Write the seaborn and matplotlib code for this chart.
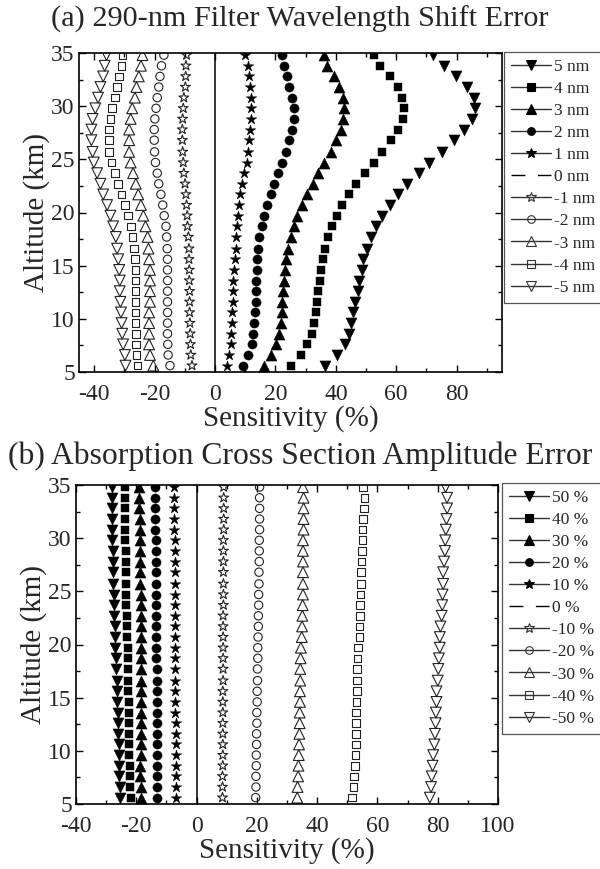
"""Sensitivity profiles for the 290-nm filter shift and cross-section amplitude errors."""

import numpy as np
import pandas as pd
import matplotlib
matplotlib.use('Agg')
import matplotlib.pyplot as plt
from matplotlib.lines import Line2D
from matplotlib.ticker import MultipleLocator
import seaborn as sns

# altitude levels, top to bottom (km)
altitude = [34.8, 33.8, 32.8, 31.8, 30.8, 29.8, 28.8, 27.8, 26.8, 25.7,
            24.7, 23.7, 22.7, 21.7, 20.7, 19.7, 18.7, 17.7, 16.6, 15.6,
            14.6, 13.6, 12.6, 11.6, 10.6, 9.6, 8.6, 7.6, 6.6, 5.6]

# (a) filter wavelength shift error
shift_labels = ['5 nm', '4 nm', '3 nm', '2 nm', '1 nm', '0 nm',
                '-1 nm', '-2 nm', '-3 nm', '-4 nm', '-5 nm']
shift_p5 = [72.3, 75.7, 79.9, 83.4, 85.6, 85.9, 85.0, 82.3, 79.0, 75.1,
            71.0, 67.4, 63.7, 60.6, 57.8, 55.3, 53.3, 51.6, 50.3, 49.1,
            48.5, 47.8, 47.2, 46.5, 45.8, 45.0, 44.2, 43.1, 40.3, 36.4]
shift_p4 = [52.5, 54.7, 57.8, 60.5, 61.9, 62.6, 62.1, 60.5, 58.2, 55.4,
            52.5, 49.5, 46.6, 44.4, 42.2, 40.3, 38.7, 37.4, 36.3, 35.6,
            35.0, 34.6, 34.1, 33.7, 33.4, 32.9, 32.1, 30.6, 28.4, 25.1]
shift_p3 = [36.1, 37.2, 39.4, 41.2, 42.3, 42.7, 42.5, 41.6, 40.1, 38.3,
            36.1, 34.1, 32.3, 30.4, 28.7, 27.3, 26.1, 25.1, 24.2, 23.6,
            23.3, 22.9, 22.6, 22.3, 22.1, 21.8, 21.1, 20.2, 18.4, 16.2]
shift_p2 = [22.1, 23.0, 23.7, 24.6, 25.4, 26.0, 26.0, 25.5, 24.6, 23.5,
            22.3, 21.0, 19.7, 18.4, 17.3, 16.3, 15.5, 14.7, 14.4, 14.0,
            13.8, 13.6, 13.6, 13.5, 13.3, 13.0, 12.7, 12.1, 10.8, 9.2]
shift_p1 = [9.9, 10.8, 11.3, 11.6, 11.9, 12.0, 11.9, 11.6, 11.3, 11.0,
            10.5, 9.5, 8.8, 8.4, 8.0, 7.6, 7.2, 7.0, 6.8, 6.6,
            6.4, 6.1, 6.1, 5.9, 5.7, 5.5, 5.4, 5.2, 4.7, 4.1]
shift_zero = 0.0
shift_m1 = [-9.4, -9.6, -9.7, -9.8, -10.3, -10.5, -10.7, -10.8, -10.8, -10.7,
            -10.5, -10.3, -9.9, -9.6, -9.4, -9.2, -9.1, -8.8, -8.6, -8.6,
            -8.5, -8.5, -8.4, -8.4, -8.4, -8.3, -8.2, -8.1, -8.0, -7.6]
shift_m2 = [-16.9, -17.7, -18.2, -18.6, -19.1, -19.5, -19.9, -20.1, -20.1, -20.0,
            -19.7, -19.1, -18.6, -17.9, -17.3, -16.8, -16.2, -16.0, -15.8, -15.7,
            -15.7, -15.7, -15.7, -15.7, -15.7, -15.7, -15.7, -15.6, -15.5, -14.9]
shift_m3 = [-24.0, -24.5, -25.2, -26.0, -26.5, -27.4, -27.9, -28.4, -28.4, -28.4,
            -27.9, -27.1, -26.2, -25.4, -24.5, -23.7, -23.0, -22.3, -22.0, -21.8,
            -21.5, -21.5, -21.5, -21.5, -21.8, -21.8, -21.8, -21.8, -21.5, -20.4]
shift_m4 = [-30.6, -30.9, -31.7, -32.4, -33.1, -34.0, -34.6, -35.0, -35.0, -35.0,
            -34.2, -33.1, -32.0, -30.9, -29.8, -28.7, -27.8, -27.3, -26.8, -26.5,
            -26.3, -26.3, -26.3, -26.3, -26.3, -26.3, -26.2, -26.2, -26.0, -25.6]
shift_m5 = [-35.9, -36.5, -37.0, -37.9, -38.7, -39.6, -40.5, -40.9, -40.9, -40.5,
            -40.1, -39.0, -37.9, -37.0, -35.7, -34.6, -33.7, -32.8, -32.4, -32.0,
            -31.7, -31.5, -31.5, -31.3, -31.1, -30.9, -30.7, -30.4, -29.8, -29.6]

# (b) absorption cross section amplitude error
amp_labels = ['50 %', '40 %', '30 %', '20 %', '10 %', '0 %',
              '-10 %', '-20 %', '-30 %', '-40 %', '-50 %']
amp_p50 = [-28.0, -28.2, -28.0, -28.0, -27.9, -27.9, -27.8, -27.7, -27.7, -27.6,
           -27.5, -27.4, -27.3, -27.2, -27.1, -27.0, -26.8, -26.6, -26.5, -26.4,
           -26.3, -26.2, -26.1, -26.0, -25.9, -25.8, -25.7, -25.6, -25.5, -25.5]
amp_p40 = [-23.8, -23.8, -23.7, -23.7, -23.6, -23.6, -23.5, -23.5, -23.4, -23.4,
           -23.3, -23.3, -23.2, -23.1, -23.0, -22.9, -22.8, -22.7, -22.6, -22.6,
           -22.5, -22.5, -22.4, -22.4, -22.3, -22.3, -22.2, -22.1, -22.0, -21.9]
amp_p30 = [-19.1, -19.0, -19.0, -18.9, -18.9, -18.8, -18.8, -18.8, -18.7, -18.7,
           -18.6, -18.6, -18.6, -18.5, -18.5, -18.4, -18.3, -18.3, -18.3, -18.4,
           -18.5, -18.5, -18.5, -18.6, -18.6, -18.6, -18.7, -18.7, -18.6, -18.5]
amp_p20 = [-13.8, -13.8, -13.7, -13.7, -13.7, -13.6, -13.6, -13.6, -13.5, -13.5,
           -13.5, -13.4, -13.4, -13.4, -13.3, -13.3, -13.3, -13.2, -13.2, -13.2,
           -13.1, -13.1, -13.1, -13.1, -13.0, -13.0, -13.0, -13.0, -13.0, -13.0]
amp_p10 = [-7.5, -7.5, -7.4, -7.4, -7.4, -7.3, -7.3, -7.3, -7.3, -7.2,
           -7.2, -7.2, -7.2, -7.1, -7.1, -7.1, -7.1, -7.0, -7.0, -7.0,
           -7.0, -7.0, -6.9, -6.9, -6.9, -6.9, -6.9, -6.9, -6.9, -6.9]
amp_zero = 0.0
amp_m10 = [9.0, 9.0, 9.0, 9.0, 9.0, 8.9, 8.9, 8.9, 8.9, 8.9,
           8.9, 8.9, 8.8, 8.8, 8.8, 8.8, 8.8, 8.8, 8.8, 8.7,
           8.7, 8.7, 8.7, 8.7, 8.7, 8.7, 8.7, 8.6, 8.6, 8.6]
amp_m20 = [20.9, 20.9, 20.9, 20.9, 20.9, 20.8, 20.8, 20.8, 20.7, 20.7,
           20.6, 20.6, 20.5, 20.5, 20.4, 20.3, 20.3, 20.2, 20.2, 20.1,
           20.1, 20.0, 20.0, 19.9, 19.9, 19.8, 19.8, 19.7, 19.7, 19.6]
amp_m30 = [35.3, 35.5, 35.5, 35.5, 35.5, 35.3, 35.3, 35.3, 35.3, 35.3,
           35.3, 35.2, 35.1, 35.0, 34.9, 34.6, 34.5, 34.4, 34.4, 34.3,
           34.3, 34.2, 34.2, 34.1, 34.0, 33.9, 33.8, 33.7, 33.5, 33.4]
amp_m40 = [55.3, 55.7, 55.6, 55.3, 55.1, 55.0, 54.8, 54.7, 54.6, 54.5,
           54.4, 54.2, 54.2, 54.1, 54.0, 53.5, 53.4, 53.3, 53.3, 53.2,
           53.1, 52.9, 52.9, 52.8, 52.8, 52.7, 52.5, 52.3, 52.0, 51.5]
amp_m50 = [82.6, 83.1, 83.1, 82.9, 82.7, 82.5, 82.4, 82.1, 81.8, 81.8,
           81.6, 81.5, 81.3, 80.9, 80.7, 80.7, 80.4, 80.2, 80.0, 79.6,
           79.6, 79.4, 79.3, 79.1, 78.9, 78.5, 78.3, 78.0, 77.8, 77.4]

# marker style per series position (filled first, then hollow)
markers = ['v', 's', '^', 'o', '*', None, '*', 'o', '^', 's', 'v']
sizes = [64, 34, 64, 44, 64, 0, 55, 36, 60, 30, 60]
filled = [True] * 5 + [False] * 6

sns.set_theme(style='ticks')
plt.rcParams['font.family'] = ['Liberation Serif', 'DejaVu Serif']
plt.rcParams['axes.unicode_minus'] = False


def draw_panel(ax, series, labels, zero, title, title_y, title_size, xlim,
               xticks, legend_anchor):
    for vals, m, s, f in zip(series,
                             markers[:5] + markers[6:],
                             sizes[:5] + sizes[6:],
                             filled[:5] + filled[6:]):
        df = pd.DataFrame({'x': vals, 'y': altitude})
        if f:
            sns.scatterplot(data=df, x='x', y='y', ax=ax, marker=m, s=s,
                            color='black', edgecolor='black', linewidth=0.3)
        else:
            sns.scatterplot(data=df, x='x', y='y', ax=ax, marker=m, s=s,
                            facecolor='none', edgecolor='#222222', linewidth=0.8)
    ax.axvline(zero, color='black', lw=1.1)

    ax.set_xlim(*xlim)
    ax.set_ylim(5, 35)
    ax.set_xticks(xticks)
    ax.xaxis.set_minor_locator(MultipleLocator(10))
    ax.yaxis.set_major_locator(MultipleLocator(5))
    ax.yaxis.set_minor_locator(MultipleLocator(2.5))
    ax.tick_params(which='both', direction='in', top=True, right=True,
                   labelsize=17, width=1, color='black')
    ax.tick_params(axis='x', pad=9)
    ax.tick_params(axis='y', pad=3)
    ax.tick_params(which='major', length=5)
    ax.tick_params(which='minor', length=3)
    for sp in ax.spines.values():
        sp.set_linewidth(1.2)
        sp.set_color('black')
    ax.set_xlabel('Sensitivity (%)', fontsize=21, labelpad=0)
    ax.set_ylabel('Altitude (km)', fontsize=21, labelpad=1)
    ax.figure.text(0.5, title_y, title, fontsize=title_size,
                   ha='center', va='center')

    handles = []
    for m, f in zip(markers, filled):
        if m is None:
            h = Line2D([], [], color='black', lw=1, linestyle=(0, (10, 9)))
        else:
            h = Line2D([], [], color='#333333', lw=1, marker=m,
                       markersize=7 if m in ('v', '^', '*') else 5.5,
                       markerfacecolor='black' if f else 'none',
                       markeredgecolor='black' if f else '#333333',
                       markeredgewidth=0.8)
        handles.append(h)
    leg = ax.legend(handles, labels, loc='upper left',
                    bbox_to_anchor=legend_anchor,
                    bbox_transform=ax.figure.transFigure,
                    fontsize=12.5, frameon=True, fancybox=False,
                    edgecolor='#555555', framealpha=1, borderaxespad=0,
                    handlelength=2.3, handletextpad=0.2, labelspacing=0.34,
                    borderpad=0.4, numpoints=1)
    leg.get_frame().set_linewidth(0.9)


fig = plt.figure(figsize=(6, 8.69), dpi=100)
ax1 = fig.add_axes([79 / 600, 1 - 372 / 869, 423 / 600, 319 / 869])
ax2 = fig.add_axes([76 / 600, 1 - 804 / 869, 422 / 600, 319 / 869])

draw_panel(ax1,
           [shift_p5, shift_p4, shift_p3, shift_p2, shift_p1,
            shift_m1, shift_m2, shift_m3, shift_m4, shift_m5],
           shift_labels, shift_zero,
           '(a) 290-nm Filter Wavelength Shift Error', 1 - 19 / 869, 21.8,
           (-45, 95), [-40, -20, 0, 20, 40, 60, 80],
           (504 / 600, 1 - 52 / 869))
draw_panel(ax2,
           [amp_p50, amp_p40, amp_p30, amp_p20, amp_p10,
            amp_m10, amp_m20, amp_m30, amp_m40, amp_m50],
           amp_labels, amp_zero,
           '(b) Absorption Cross Section Amplitude Error', 1 - 456 / 869, 22.8,
           (-40, 100), [-40, -20, 0, 20, 40, 60, 80, 100],
           (502 / 600, 1 - 483 / 869))

fig.savefig('out.png', dpi=100)
